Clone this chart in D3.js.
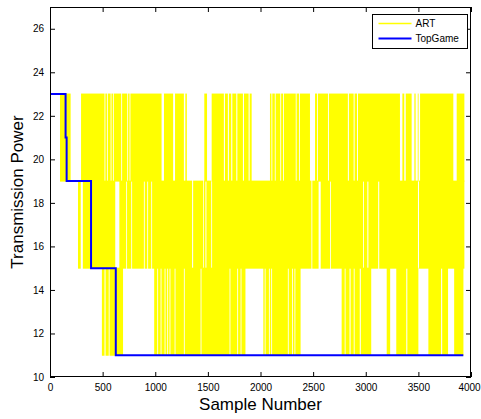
<!DOCTYPE html>
<html>
<head>
<meta charset="utf-8">
<script src="https://cdn.jsdelivr.net/npm/d3@7"></script>
<style>
  body { margin: 0; background: #fff; }
  svg { display: block; }
  text { font-family: "Liberation Sans", Arial, sans-serif; fill: #000; }
</style>
</head>
<body>
<div class="graph"></div>
<script>
// x / y tick values
const xTickValues = [0, 500, 1000, 1500, 2000, 2500, 3000, 3500, 4000];
const yTickValues = [10, 12, 14, 16, 18, 20, 22, 24, 26];

// ART: sample ranges where the trace keeps jumping between two power levels
const artBands = [[19, 23], [15, 19], [11, 15]];
const artTopSpans = [
  [95, 196], [295, 518], [526, 541], [549, 576], [584, 598], [606, 677], [685, 734], [742, 756],
  [764, 1060], [1083, 1170], [1188, 1272], [1286, 1300], [1466, 1492], [1536, 1652], [1662, 1690],
  [1700, 1722], [1732, 1770], [1780, 1833], [1843, 1887], [1897, 1916],
  [2090, 2104], [2112, 2136], [2144, 2188], [2196, 2214], [2222, 2335], [2343, 2366], [2374, 2470],
  [2518, 2538], [2546, 2641], [2650, 2830], [2840, 2885], [2894, 2917], [2926, 3325],
  [3348, 3366], [3380, 3436], [3462, 3474], [3494, 3502], [3516, 3832], [3864, 3937]
];
const artMidSpans = [
  [266, 292], [312, 620], [659, 724], [732, 772], [780, 892], [900, 924], [932, 962], [970, 1350],
  [1360, 1455], [1462, 1477], [1486, 1532], [1540, 2484], [2492, 2552], [2572, 2662], [2670, 2975],
  [2983, 3015], [3025, 3118], [3128, 3496], [3506, 3937]
];
const artLowSpans = [
  [493, 518], [528, 558], [566, 694],
  [990, 1019], [1027, 1051], [1059, 1089], [1097, 1114], [1122, 1136], [1144, 1184], [1192, 1272],
  [1280, 1431], [1439, 1706], [1714, 1779], [1787, 1811], [1819, 1857],
  [2027, 2040], [2048, 2080], [2088, 2102], [2110, 2260], [2268, 2301], [2309, 2323], [2331, 2381],
  [2771, 2800], [2808, 2846], [2856, 2886], [2894, 2943], [2953, 3052],
  [3199, 3232], [3290, 3385], [3395, 3500], [3595, 3716], [3726, 3782], [3840, 3928]
];

// TopGame: step changes (sample, power)
const topGameSamples = [0, 148, 158, 390, 625, 3927];
const topGameLevels = [23, 21, 19, 15, 11, 11];

const w = 481;
const h = 419;
const padding = { top: 7, right: 10, bottom: 42, left: 50 };

const xScale = d3.scaleLinear().domain([0, 4000]).range([padding.left, w - padding.right]);
const yScale = d3.scaleLinear().domain([10, 27]).range([h - padding.bottom, padding.top]);

const svg = d3.select('.graph').append('svg').attr('width', w).attr('height', h);

const art = svg.append('g').attr('class', 'art').attr('fill', '#ffff00');
[artTopSpans, artMidSpans, artLowSpans].forEach((spans, i) => {
  const band = artBands[i];
  art.selectAll(null)
    .data(spans)
    .enter()
    .append('rect')
    .attr('x', (d) => xScale(d[0]))
    .attr('width', (d) => xScale(d[1]) - xScale(d[0]))
    .attr('y', yScale(band[1]) - 0.5)
    .attr('height', yScale(band[0]) - yScale(band[1]) + 1);
});

const topGame = topGameSamples.map((s, i) => [s, topGameLevels[i]]);
svg.append('path')
  .datum(topGame)
  .attr('fill', 'none')
  .attr('stroke', '#0000ff')
  .attr('stroke-width', 2)
  .attr('d', d3.line().x((d) => xScale(d[0])).y((d) => yScale(d[1])).curve(d3.curveStepAfter));

// frame
svg.append('rect')
  .attr('x', padding.left + 0.5)
  .attr('y', padding.top + 0.5)
  .attr('width', w - padding.left - padding.right - 1)
  .attr('height', h - padding.top - padding.bottom - 1)
  .attr('fill', 'none')
  .attr('stroke', '#000');

const axes = [
  ['x-axis', d3.axisBottom(xScale), `translate(0, ${h - padding.bottom})`, true],
  ['x-top', d3.axisTop(xScale), `translate(0, ${padding.top})`, false],
  ['y-axis', d3.axisLeft(yScale), `translate(${padding.left}, 0)`, true],
  ['y-right', d3.axisRight(yScale), `translate(${w - padding.right}, 0)`, false]
];
axes.forEach(([cls, axis, tr, labels]) => {
  const isX = cls.startsWith('x');
  axis.tickValues(isX ? xTickValues : yTickValues)
    .tickSizeInner(-5)
    .tickSizeOuter(0)
    .tickPadding(isX ? 7 : 6)
    .tickFormat(labels ? d3.format('d') : '');
  const g = svg.append('g')
    .attr('class', cls)
    .attr('transform', tr)
    .call(axis);
  g.select('.domain').remove();
  g.selectAll('text').style('font-size', '10px').style('font-family', '"Liberation Sans", Arial, sans-serif');
});
// last x label sits right at the window edge
svg.selectAll('.x-axis .tick text').filter((d) => d === 4000).attr('dx', -2);

svg.append('text')
  .attr('x', (padding.left + w - padding.right) / 2)
  .attr('y', 410)
  .attr('text-anchor', 'middle')
  .style('font-size', '17px')
  .text('Sample Number');

svg.append('text')
  .attr('transform', `translate(23, ${(padding.top + h - padding.bottom) / 2}) rotate(-90)`)
  .attr('text-anchor', 'middle')
  .style('font-size', '17px')
  .text('Transmission Power');

// legend
const legend = svg.append('g').attr('transform', 'translate(372.5, 14.5)');
legend.append('rect').attr('width', 95).attr('height', 34).attr('fill', '#fff').attr('stroke', '#000');
const legendItems = [['ART', '#ffff00', 1.5], ['TopGame', '#0000ff', 2]];
legendItems.forEach(([name, color, sw], i) => {
  const y = 9 + i * 15;
  legend.append('line').attr('x1', 6).attr('x2', 39).attr('y1', y).attr('y2', y)
    .attr('stroke', color).attr('stroke-width', sw);
  legend.append('text').attr('x', 43).attr('y', y).attr('dy', '0.35em')
    .style('font-size', '10px').text(name);
});
</script>
</body>
</html>
